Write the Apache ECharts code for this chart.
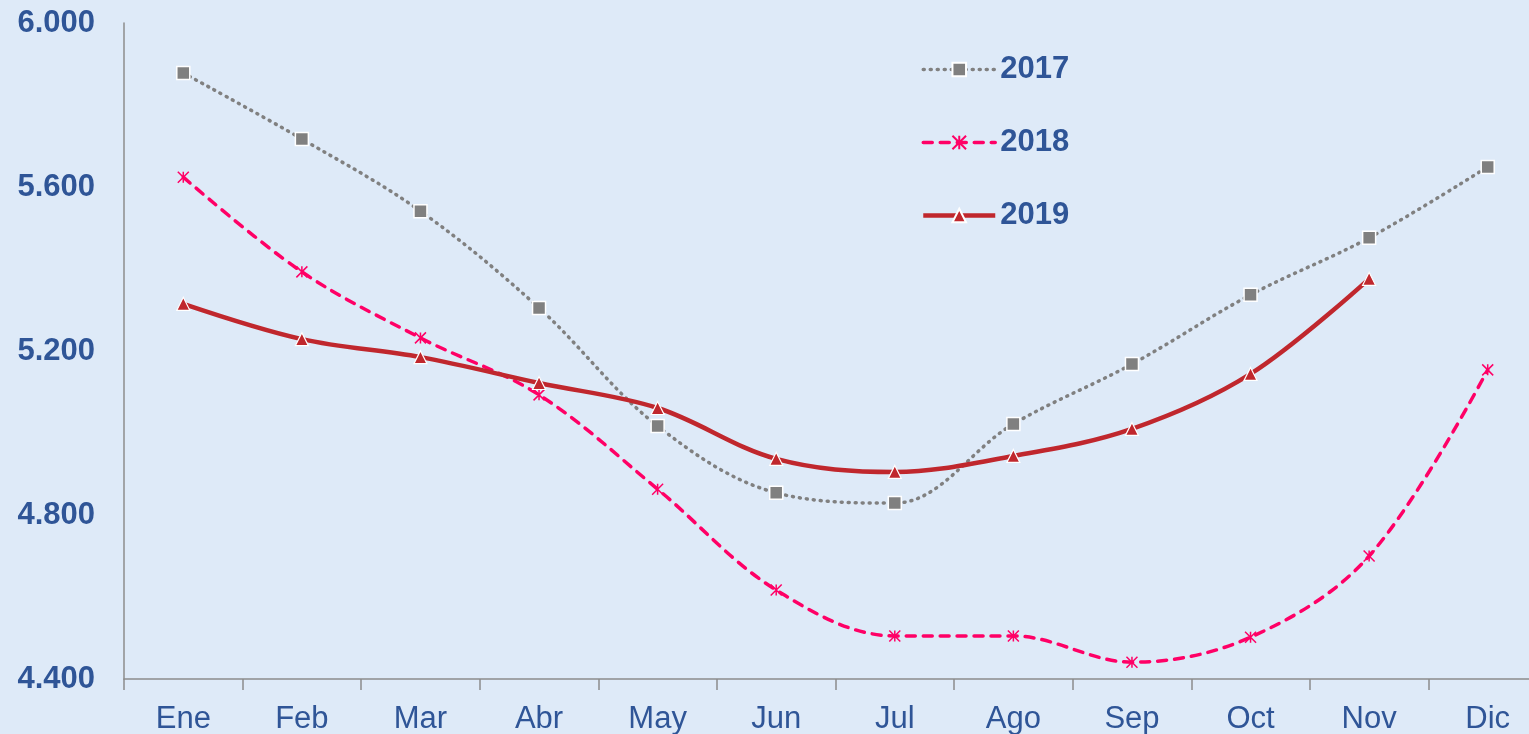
<!DOCTYPE html>
<html>
<head>
<meta charset="utf-8">
<script src="https://cdn.jsdelivr.net/npm/echarts@6/dist/echarts.min.js"></script>
<style>
html, body { margin: 0; padding: 0; background: #DEEAF8; }
#container { width: 1529px; height: 734px; }
</style>
</head>
<body>
<div id="container"></div>
<script>
// datos
var meses  = ['Ene', 'Feb', 'Mar', 'Abr', 'May', 'Jun', 'Jul', 'Ago', 'Sep', 'Oct', 'Nov', 'Dic'];
var data17 = [5878, 5717, 5541, 5305, 5017, 4854, 4829, 5022, 5168, 5337, 5476, 5649];
var data18 = [5624, 5393, 5232, 5093, 4863, 4617, 4505, 4505, 4441, 4502, 4700, 5154];
var data19 = [5315, 5229, 5185, 5122, 5061, 4937, 4905, 4944, 5010, 5144, 5376];

var azul = '#2F5597';
var asterisco = 'path://M0,0L10,10M10,0L0,10M5,0L5,10M5,5L5,5';

var dom   = document.getElementById('container');
var chart = echarts.init(dom);

option = {
    backgroundColor: '#DEEAF8',
    textStyle: { fontFamily: 'Liberation Sans, Arial, sans-serif' },
    grid: {
        left: 124,
        right: -18,
        top: 23,
        bottom: 55,
        outerBoundsMode: 'none'
    },
    legend: {
        orient: 'vertical',
        left: 921,
        top: 53,
        padding: 0,
        itemWidth: 72,
        itemHeight: 17,
        itemGap: 40,
        lineStyle: { width: 'inherit', type: 'inherit' },
        textStyle: {
            color: azul,
            fontSize: 31,
            fontWeight: 'bold',
            lineHeight: 33
        },
        data: ['2017', '2018', '2019']
    },
    xAxis: {
        type: 'category',
        data: meses,
        boundaryGap: true,
        axisLine: { lineStyle: { color: '#8C8C8C', width: 1.5 } },
        axisTick: { show: true, alignWithLabel: false, length: 11, lineStyle: { color: '#8C8C8C', width: 1.5 } },
        axisLabel: { color: azul, fontSize: 31, margin: 25 }
    },
    yAxis: {
        type: 'value',
        min: 4400,
        max: 6000,
        interval: 400,
        axisLine: { show: true, lineStyle: { color: '#8C8C8C', width: 1.5 } },
        axisTick: { show: false },
        splitLine: { show: false },
        axisLabel: {
            color: azul,
            fontSize: 31,
            fontWeight: 'bold',
            margin: 29,
            formatter: function (v) { return (v / 1000).toFixed(3); }
        }
    },
    series: [
        {
            name: '2017',
            type: 'line',
            data: data17,
            smooth: 0.35,
            symbol: 'rect',
            symbolSize: 13,
            lineStyle: { color: '#808080', width: 3.5, type: [1, 6], cap: 'round' },
            itemStyle: { color: '#808080', borderColor: '#FFFFFF', borderWidth: 1.5 }
        },
        {
            name: '2018',
            type: 'line',
            data: data18,
            smooth: 0.35,
            symbol: asterisco,
            symbolSize: 11,
            lineStyle: { color: '#FF0066', width: 3.5, type: [9, 8], cap: 'round' },
            itemStyle: { color: '#FF0066', borderColor: '#FF0066', borderWidth: 1.5 }
        },
        {
            name: '2019',
            type: 'line',
            data: data19,
            smooth: 0.35,
            symbol: 'triangle',
            symbolSize: 13,
            lineStyle: { color: '#C0272D', width: 4.5 },
            itemStyle: { color: '#C0272D', borderColor: '#FFFFFF', borderWidth: 1.2 }
        }
    ]
};

chart.setOption(option, true);
</script>
</body>
</html>
